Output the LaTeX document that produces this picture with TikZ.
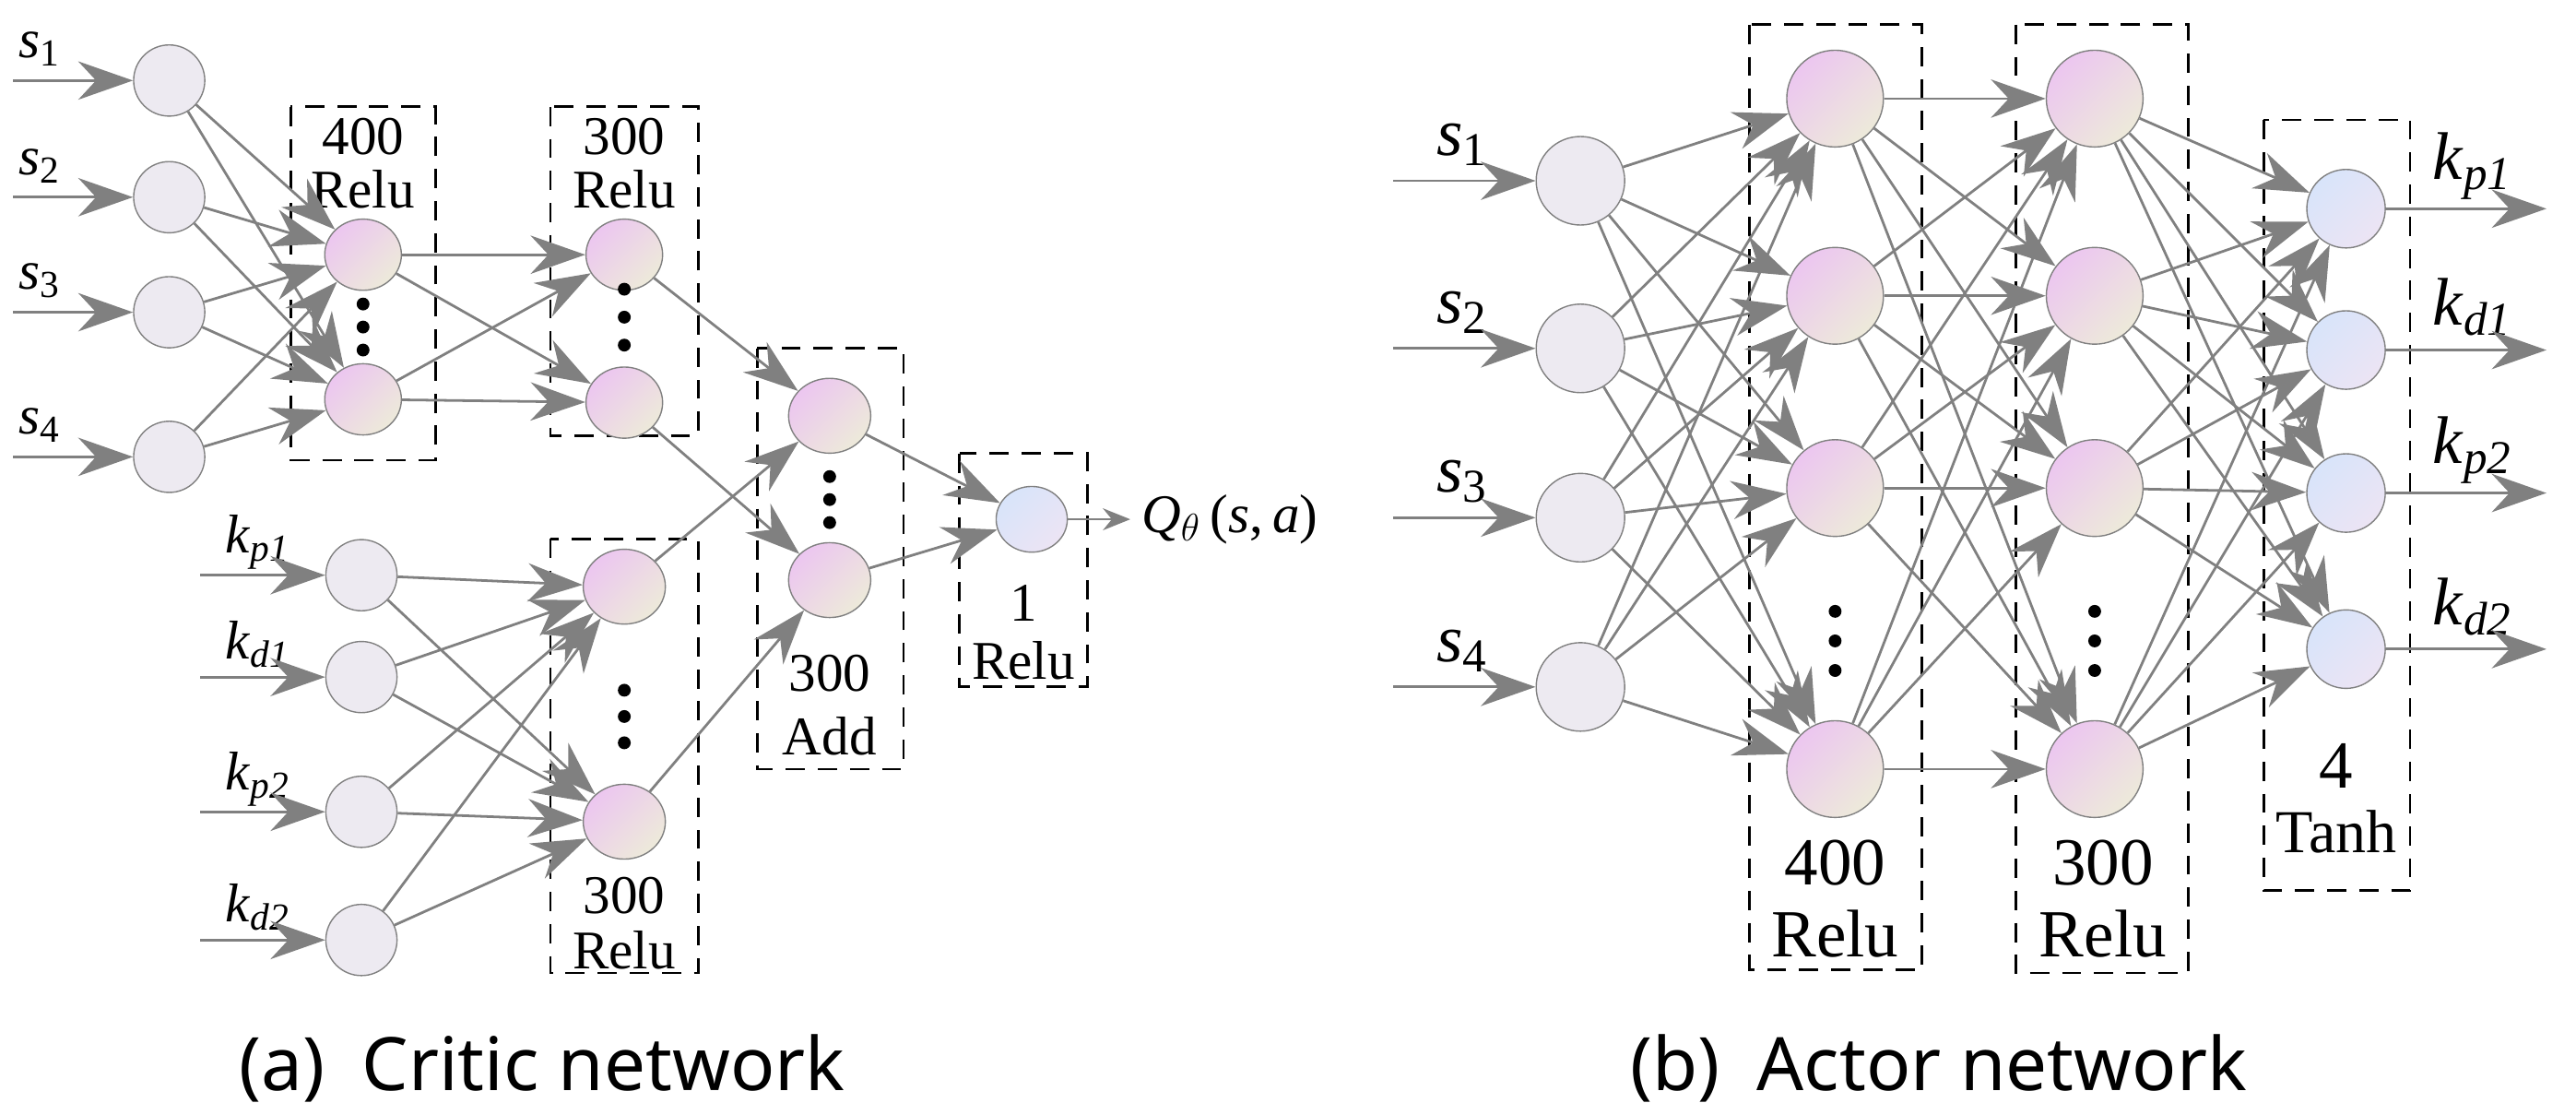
\documentclass[tikz,border=0pt]{standalone}
\usepackage{fontspec}
\setmainfont{Liberation Serif}
\newfontfamily\capfont{Noto Sans}
\usetikzlibrary{arrows.meta, shapes.geometric}

\definecolor{edgegray}{HTML}{808080}
\definecolor{inputfill}{HTML}{EDEAF1}
\definecolor{pinkA}{HTML}{ECC6F0}
\definecolor{beigeA}{HTML}{EDEADA}
\definecolor{blueA}{HTML}{D8E4FA}
\definecolor{lilacA}{HTML}{ECE4F4}

\newcommand{\var}[2]{\textit{#1}\textsubscript{#2}}

\tikzset{
    input/.style = {ellipse, draw = edgegray, fill = inputfill, minimum width = #1, minimum height = #1},
    hidden/.style = {ellipse, draw = edgegray, left color = pinkA, right color = beigeA, shading angle = 45, minimum width = #1, minimum height = #1},
    outnode/.style = {ellipse, draw = edgegray, left color = blueA, right color = lilacA, shading angle = 45, minimum width = #1, minimum height = #1},
    conn/.style = {draw = edgegray, thick, -{Stealth[length=6mm, width=4.2mm]}},
    box/.style = {draw, thick, dashed, dash pattern = on 6pt off 4pt},
    dotsv/.style = {circle, fill, inner sep = 0pt, minimum size = 4pt},
    lbl/.style = {font = \fontsize{17}{17}\selectfont},
    biglbl/.style = {font = \fontsize{21}{21}\selectfont}
}

\begin{document}
\begin{tikzpicture}[x=0.018cm, y=-0.018cm]
    \useasboundingbox (0,0) rectangle (1568,678);

    % (a) Critic network
    % Boxes
    \draw [box] (177,65) rectangle (265,280);
    \draw [box] (335,65) rectangle (425,265);
    \draw [box] (335,328) rectangle (425,592);
    \draw [box] (461,212) rectangle (550,468);
    \draw [box] (584,276) rectangle (662,418);
    \node [lbl] at (221,83) {400};
    \node [lbl] at (221,115) {Relu};
    \node [lbl] at (380,83) {300};
    \node [lbl] at (380,115) {Relu};
    \node [lbl] at (380,545) {300};
    \node [lbl] at (380,578) {Relu};
    \node [lbl] at (505,410) {300};
    \node [lbl] at (505,448) {Add};
    \node [lbl] at (623,367) {1};
    \node [lbl] at (623,402) {Relu};

    % Nodes
    \foreach \i/\y in {1/49, 2/120, 3/190, 4/278} {
        \node [input=0.78cm] (cs\i) at (103,\y) {};
        \coordinate (csin\i) at (8,\y);
        \node [lbl] at (24,\y-19) {\var{s}{\i}};
        \draw [conn] (csin\i) -- (cs\i);
    }
    \foreach \i/\y/\t in {1/350/{p}1, 2/412/{d}1, 3/494/{p}2, 4/572/{d}2} {
        \node [input=0.78cm] (ck\i) at (220,\y) {};
        \coordinate (ckin\i) at (122,\y);
        \node [lbl] at (157,\y-20) {\var{k}{\textit\t}};
        \draw [conn] (ckin\i) -- (ck\i);
    }
    \node [hidden=0.78cm, minimum width=0.84cm] (ca1) at (221,155) {};
    \node [hidden=0.78cm, minimum width=0.84cm] (ca2) at (221,243) {};
    \node [hidden=0.78cm, minimum width=0.84cm] (cb1) at (380,155) {};
    \node [hidden=0.78cm, minimum width=0.84cm] (cb2) at (380,245) {};
    \node [hidden=0.82cm, minimum width=0.9cm] (cc1) at (380,357) {};
    \node [hidden=0.82cm, minimum width=0.9cm] (cc2) at (380,500) {};
    \node [hidden=0.82cm, minimum width=0.9cm] (cd1) at (505,253) {};
    \node [hidden=0.82cm, minimum width=0.9cm] (cd2) at (505,353) {};
    \node [outnode=0.72cm, minimum width=0.78cm] (ce) at (628,316) {};
    \foreach \x/\y in {221/185, 221/199, 221/213, 380/176, 380/193, 380/210, 380/420, 380/436, 380/452, 505/290, 505/304, 505/318} {
        \node [dotsv] at (\x,\y) {};
    }

    % Connections
    \foreach \i in {1,...,4} {
        \foreach \j in {1,2} {
            \draw [conn] (cs\i) -- (ca\j);
            \draw [conn] (ck\i) -- (cc\j);
        }
    }
    \foreach \i in {1,2} {
        \foreach \j in {1,2} {
            \draw [conn] (ca\i) -- (cb\j);
        }
        \draw [conn] (cb\i) -- (cd\i);
        \draw [conn] (cc\i) -- (cd\i);
        \draw [conn] (cd\i) -- (ce);
    }
    \coordinate (qout) at (688,316);
    \draw [conn, -{Stealth[length=3mm, width=2.4mm]}] (ce) -- (qout);
    \node [lbl, anchor=west] at (688,316) {\textit{Q}$_\theta$\,(\textit{s},\,\textit{a})};

    % (b) Actor network
    % Boxes
    \draw [box] (1065,15) rectangle (1170,590);
    \draw [box] (1227,15) rectangle (1332,592);
    \draw [box] (1378,73) rectangle (1467,542);
    \node [biglbl] at (1117,525) {400};
    \node [biglbl] at (1117,568) {Relu};
    \node [biglbl] at (1280,525) {300};
    \node [biglbl] at (1280,568) {Relu};
    \node [biglbl] at (1422,466) {4};
    \node [lbl, font=\fontsize{19}{19}\selectfont] at (1422,506) {Tanh};

    % Nodes
    \foreach \i/\y in {1/110, 2/212, 3/315, 4/418} {
        \node [input=0.97cm] (as\i) at (962,\y) {};
        \coordinate (asin\i) at (848,\y);
        \node [biglbl] at (890,\y-22) {\var{s}{\i}};
        \draw [conn] (asin\i) -- (as\i);
    }
    \foreach \i/\y in {1/60, 2/180, 3/297, 4/468} {
        \node [hidden=1.06cm, minimum width=1.06cm] (aa\i) at (1117,\y) {};
        \node [hidden=1.06cm, minimum width=1.06cm] (ab\i) at (1275,\y) {};
    }
    \foreach \i/\y/\t in {1/127/{p}1, 2/213/{d}1, 3/300/{p}2, 4/395/{d}2} {
        \node [outnode=0.86cm] (ao\i) at (1428,\y) {};
        \coordinate (aout\i) at (1550,\y);
        \node [biglbl] at (1505,\y-26) {\var{k}{\textit\t}};
        \draw [conn] (ao\i) -- (aout\i);
    }
    \foreach \x in {1117,1275} {
        \foreach \y in {372,390,408} {
            \node [dotsv] at (\x,\y) {};
        }
    }

    % Connections
    \foreach \i in {1,...,4} {
        \foreach \j in {1,...,4} {
            \draw [conn] (as\i) -- (aa\j);
            \draw [conn] (aa\i) -- (ab\j);
            \draw [conn] (ab\i) -- (ao\j);
        }
    }

    % Captions
    \node [font=\capfont\fontsize{23}{23}\selectfont] at (330,650) {(a)\enspace Critic network};
    \node [font=\capfont\fontsize{23}{23}\selectfont] at (1180,650) {(b)\enspace Actor network};

\end{tikzpicture}
\end{document}
